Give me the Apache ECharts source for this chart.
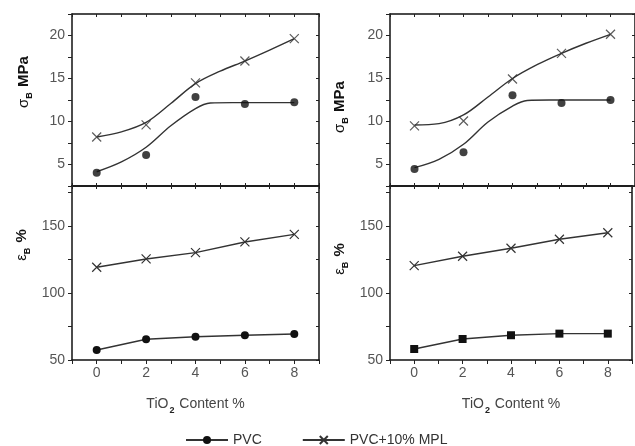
<!DOCTYPE html>
<html><head><meta charset="utf-8">
<script src="https://cdn.jsdelivr.net/npm/echarts@6/dist/echarts.min.js"></script>
<style>html,body{margin:0;padding:0;background:#fff}#c{width:635px;height:446px}</style>
</head><body><div id="c"></div>
<script>
// ---- data ----
const tiO2 = [0, 2, 4, 6, 8];
const xTickLabels = [0, 2, 4, 6, 8];
const sigmaTickLabels = [5, 10, 15, 20];
const epsTickLabels = [50, 100, 150];
const seriesNames = ['PVC', 'PVC+10% MPL'];

// left panels
const sigmaPVC_L = [4.05, 6.1, 12.85, 12.03, 12.23];
const sigmaMPL_L = [8.2, 9.6, 14.5, 17.03, 19.63];
const epsPVC_L = [57.5, 65.5, 67.4, 68.5, 69.4];
const epsMPL_L = [119.3, 125.5, 130.2, 138.2, 143.9];
// right panels
const sigmaPVC_R = [4.48, 6.42, 13.04, 12.15, 12.5];
const sigmaMPL_R = [9.5, 10.06, 14.94, 17.93, 20.14];
const epsPVC_R = [58.2, 65.7, 68.5, 69.7, 69.7];
const epsMPL_R = [120.5, 127.5, 133.5, 140.2, 145.1];
// fitted curves
const fitPVC_X = [0, 1, 2, 3, 4, 4.6, 5.5, 8];
const fitPVC_L = [4.16, 5.3, 7.0, 9.5, 11.5, 12.15, 12.2, 12.2];
const fitPVC_R = [4.63, 5.6, 7.35, 9.95, 11.8, 12.45, 12.5, 12.5];
const fitMPL_X = [0, 1, 2, 3, 4, 5, 6, 7, 8];
const fitMPL_L = [8.2, 8.8, 9.9, 12.1, 14.4, 15.85, 17.03, 18.3, 19.63];
const fitMPL_R = [9.6, 9.75, 10.76, 12.85, 15.0, 16.6, 17.93, 19.1, 20.14];

const pair = (xs, ys) => xs.map((x, i) => [x, ys[i]]);
const FONT = '"Liberation Sans", Arial, sans-serif';
const LINE = '#333';
const CROSS = 'path://M0,0L10,10M10,0L0,10';

const grids = [
  { left: 72, top: 14, width: 247, height: 172 },   // top-left sigma
  { left: 72, top: 186, width: 247, height: 174 },  // bottom-left eps
  { left: 390, top: 14, width: 248, height: 172 },  // top-right sigma
  { left: 390, top: 186, width: 248, height: 174 }  // bottom-right eps
];
const isSigma = [true, false, true, false];

const xAxes = [], yAxes = [];
grids.forEach((g, gi) => {
  const labeled = !isSigma[gi];
  const base = {
    type: 'value', gridIndex: gi, min: -1, max: 9, interval: 1,
    splitLine: { show: false },
    axisLine: { show: true, onZero: false, lineStyle: { color: '#111', width: 1.5 } }
  };
  xAxes.push(Object.assign({}, base, {
    position: 'bottom',
    axisTick: { show: true, inside: !labeled, length: labeled ? 4 : 3, lineStyle: { color: '#222' } },
    axisLabel: {
      show: labeled, margin: 6, color: '#555', fontSize: 14, fontFamily: FONT,
      formatter: v => xTickLabels.includes(v) ? String(v) : ''
    },
    name: labeled ? '{n|TiO}{s|2}{n| Content %}' : '',
    nameLocation: 'middle', nameGap: 37,
    nameTextStyle: {
      rich: {
        n: { fontSize: 14, color: '#444', fontFamily: FONT, lineHeight: 18, verticalAlign: 'top' },
        s: { fontSize: 9, color: '#222', fontWeight: 'bold', fontFamily: FONT, lineHeight: 18, verticalAlign: 'bottom', padding: [6, 1, 0, 1] }
      }
    }
  }));
  xAxes.push(Object.assign({}, base, {
    position: 'top',
    axisTick: { show: true, inside: true, length: 3, lineStyle: { color: '#222' } },
    axisLabel: { show: false }
  }));
  const yb = isSigma[gi]
    ? { min: 2.5, max: 22.5, interval: 2.5, labels: sigmaTickLabels }
    : { min: 50, max: 180, interval: 25, labels: epsTickLabels };
  const ybase = {
    type: 'value', gridIndex: gi, min: yb.min, max: yb.max, interval: yb.interval,
    splitLine: { show: false },
    axisLine: { show: true, onZero: false, lineStyle: { color: '#111', width: 1.5 } }
  };
  yAxes.push(Object.assign({}, ybase, {
    position: 'left',
    axisTick: { show: true, inside: false, length: 4, lineStyle: { color: '#222' } },
    axisLabel: {
      show: true, margin: 7, color: '#555', fontSize: 14, fontFamily: FONT,
      formatter: v => yb.labels.includes(v) ? String(v) : ''
    }
  }));
  yAxes.push(Object.assign({}, ybase, {
    position: 'right',
    axisTick: { show: true, inside: true, length: 3, lineStyle: { color: '#222' } },
    axisLabel: { show: false }
  }));
});

const pvcItem = { color: '#111' };
const mplItem = { color: 'rgba(0,0,0,0)', borderColor: '#333', borderWidth: 1.2 };
const lineStyle = { color: LINE, width: 1.4 };

function lineSeries(name, gi, data, symbol, item, size) {
  return {
    name, type: 'line', xAxisIndex: 2 * gi, yAxisIndex: 2 * gi,
    data: pair(tiO2, data), symbol, symbolSize: size, itemStyle: item,
    lineStyle, emphasis: { disabled: true }, z: 3
  };
}
function markerSeries(name, gi, data, symbol, item, size) {
  return {
    name, type: 'scatter', xAxisIndex: 2 * gi, yAxisIndex: 2 * gi,
    data: pair(tiO2, data), symbol, symbolSize: size, itemStyle: item,
    emphasis: { disabled: true }, z: 4
  };
}
function fitSeries(gi, xs, ys) {
  return {
    name: 'fit', type: 'line', xAxisIndex: 2 * gi, yAxisIndex: 2 * gi,
    data: pair(xs, ys), symbol: 'none', smooth: 0.35,
    lineStyle, emphasis: { disabled: true }, z: 2
  };
}

const series = [
  lineSeries(seriesNames[0], 1, epsPVC_L, 'circle', pvcItem, 8),
  lineSeries(seriesNames[1], 1, epsMPL_L, CROSS, mplItem, 9),
  lineSeries(seriesNames[0], 3, epsPVC_R, 'rect', pvcItem, 8),
  lineSeries(seriesNames[1], 3, epsMPL_R, CROSS, mplItem, 9),
  fitSeries(0, fitPVC_X, fitPVC_L),
  fitSeries(0, fitMPL_X, fitMPL_L),
  fitSeries(2, fitPVC_X, fitPVC_R),
  fitSeries(2, fitMPL_X, fitMPL_R),
  markerSeries(seriesNames[0], 0, sigmaPVC_L, 'circle', pvcItem, 8),
  markerSeries(seriesNames[1], 0, sigmaMPL_L, CROSS, mplItem, 9),
  markerSeries(seriesNames[0], 2, sigmaPVC_R, 'circle', pvcItem, 8),
  markerSeries(seriesNames[1], 2, sigmaMPL_R, CROSS, mplItem, 9)
];

const nameRich = {
  g: { fontSize: 15, fill: '#111', fontFamily: FONT, lineHeight: 18, verticalAlign: 'top' },
  b: { fontSize: 9, fill: '#111', fontWeight: 'bold', fontFamily: FONT, lineHeight: 18, verticalAlign: 'bottom', padding: [5, 1, 0, 0] },
  m: { fontSize: 15, fill: '#111', fontWeight: 'bold', fontFamily: FONT, lineHeight: 18, verticalAlign: 'top' }
};
function yName(x, y, txt) {
  return {
    type: 'text', x, y, rotation: Math.PI / 2,
    style: { text: txt, rich: nameRich, align: 'center', verticalAlign: 'middle' }
  };
}

const chart = echarts.init(document.getElementById('c'), null, { renderer: 'canvas' });
chart.setOption({
  animation: false,
  backgroundColor: '#fff',
  grid: grids,
  xAxis: xAxes,
  yAxis: yAxes,
  series,
  legend: {
    data: seriesNames, left: 180, top: 428, itemWidth: 42, itemHeight: 10, itemGap: 40,
    textStyle: { fontSize: 14, color: '#333', fontFamily: FONT },
    selectedMode: false
  },
  graphic: [
    yName(25, 82, '{g|σ}{b|B}{m| MPa}'),
    yName(341, 107, '{g|σ}{b|B}{m| MPa}'),
    yName(23, 245, '{g|ε}{b|B}{m| %}'),
    yName(341, 259, '{g|ε}{b|B}{m| %}')
  ]
});
</script></body></html>
